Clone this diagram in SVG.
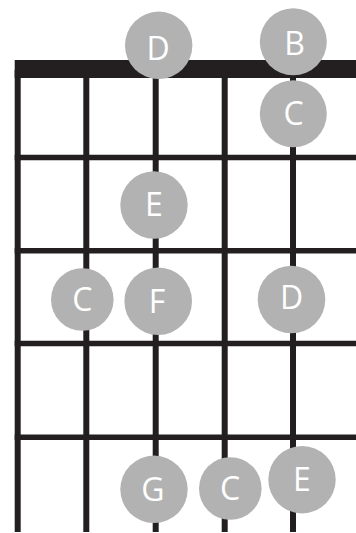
<svg xmlns="http://www.w3.org/2000/svg" width="356" height="533" viewBox="0 0 356 533">
<style>
.str{stroke:#231f20;stroke-width:6;fill:none}
.fret{stroke:#231f20;stroke-width:5.5;fill:none}
.note circle{fill:#b2b2b2}
.note text{fill:#ffffff;font-family:"Open Sans","Liberation Sans",sans-serif;font-size:32px;text-anchor:middle}
</style>
<rect x="0" y="0" width="356" height="533" fill="#ffffff"/>
<g id="fretboard">
<rect x="14.7" y="60" width="341.3" height="18" fill="#231f20"/>
<line class="str" x1="17.7" y1="70" x2="17.7" y2="532"/>
<line class="str" x1="86.3" y1="70" x2="86.3" y2="532"/>
<line class="str" x1="155.7" y1="70" x2="155.7" y2="532"/>
<line class="str" x1="224.7" y1="70" x2="224.7" y2="532"/>
<line class="str" x1="293" y1="70" x2="293" y2="532"/>
<line class="fret" x1="14.7" y1="157.5" x2="356" y2="157.5"/>
<line class="fret" x1="14.7" y1="250.8" x2="356" y2="250.8"/>
<line class="fret" x1="14.7" y1="343.5" x2="356" y2="343.5"/>
<line class="fret" x1="14.7" y1="437.3" x2="356" y2="437.3"/>
</g>
<g id="note-D-top" class="note"><circle cx="158.7" cy="45.3" r="33.7"/><text x="158" y="59.5">D</text></g>
<g id="note-B-top" class="note"><circle cx="293.3" cy="41.7" r="33.5"/><text x="294.5" y="55.3">B</text></g>
<g id="note-C-1" class="note"><circle cx="293.3" cy="113.7" r="33.5"/><text x="293.5" y="125">C</text></g>
<g id="note-E-2" class="note"><circle cx="154" cy="205" r="33.7"/><text x="154" y="216">E</text></g>
<g id="note-C-3" class="note"><circle cx="82.3" cy="299.5" r="31.3"/><text x="82.3" y="310.7">C</text></g>
<g id="note-F-3" class="note"><circle cx="158.2" cy="301.2" r="33.8"/><text x="157" y="312.5">F</text></g>
<g id="note-D-3" class="note"><circle cx="291.5" cy="299.5" r="33.8"/><text x="291.5" y="309.3">D</text></g>
<g id="note-G-5" class="note"><circle cx="154" cy="489.3" r="33.7"/><text x="153" y="501.2">G</text></g>
<g id="note-C-5" class="note"><circle cx="230.3" cy="488.5" r="31.3"/><text x="230" y="499.8">C</text></g>
<g id="note-E-5" class="note"><circle cx="302" cy="479.7" r="33.7"/><text x="302" y="490.5">E</text></g>
</svg>
